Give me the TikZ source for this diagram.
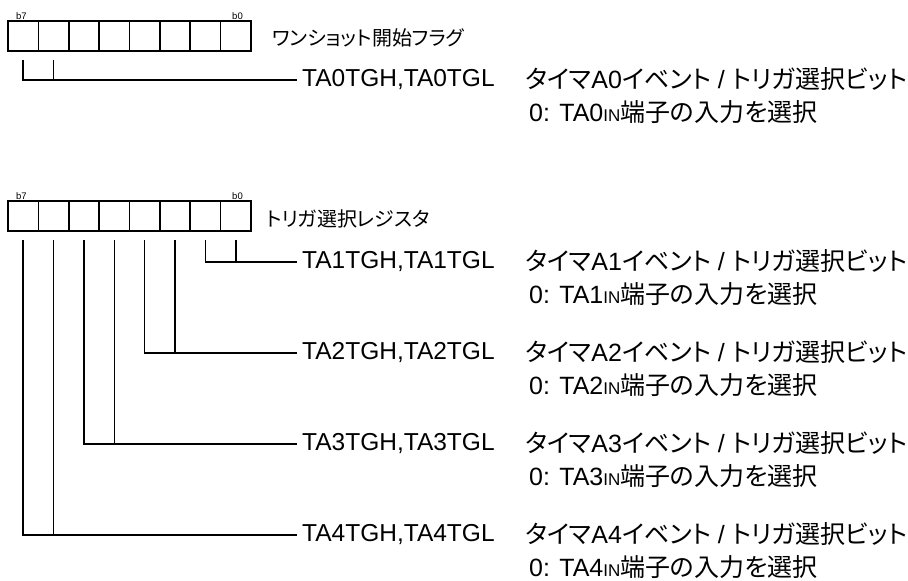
\documentclass[tikz,border=0pt]{standalone}
\usepackage{fontspec}
\setmainfont{Liberation Sans}
\newfontfamily\jpfont[RawFeature=+palt]{Noto Sans CJK JP}
\usetikzlibrary{positioning}

\begin{document}
\begin{tikzpicture}[x=1pt, y=-1pt,
  cell/.style={draw, line width=1.6pt, minimum width=30.375pt, minimum height=30pt, inner sep=0pt},
  leader/.style={line width=1.4pt},
  bitlabel/.style={font=\fontsize{9.5}{9.5}\selectfont, inner sep=0pt},
  regname/.style={font=\fontsize{20}{20}\selectfont\jpfont, anchor=west, inner sep=0pt},
  fieldname/.style={font=\fontsize{24.5}{24.5}\selectfont, anchor=west, inner xsep=5pt, inner ysep=0pt},
  fielddesc/.style={font=\fontsize{25}{25}\selectfont, anchor=base west, inner sep=0pt}]
\useasboundingbox (0,0) rectangle (908,581);

% one-shot start flag
\foreach \i in {0,...,7}
  \node[cell] (f\i) at ({8+30.375*(7.5-\i)},36) {};
\node[bitlabel, anchor=base west] (f7l) at (16,19) {b7};
\node[bitlabel, anchor=base east] (f0l) at (243,19) {b0};
\node[regname] (fname) at (272,38) {ワンショット開始フラグ};

\node[fieldname] (t0) at (297,80) {TA0TGH,TA0TGL};
\node[fielddesc] (d0) at (525,88) {{\jpfont タイマ}A0{\jpfont イベント} / {\jpfont トリガ選択ビット}};
\node[fielddesc] (n0) at (529,121) {0: TA0{\fontsize{17}{17}\selectfont IN}{\jpfont 端子の入力を選択}};
\draw[leader] ([yshift=-8pt]f7.south) |- (t0.west);
\draw[leader] ([yshift=-8pt]f6.south) -- (f6 |- t0.west);

% trigger select register
\foreach \i in {0,...,7}
  \node[cell] (s\i) at ({8+30.375*(7.5-\i)},216) {};
\node[bitlabel, anchor=base west] (s7l) at (16,199) {b7};
\node[bitlabel, anchor=base east] (s0l) at (243,199) {b0};
\node[regname] (sname) at (266,219) {トリガ選択レジスタ};

\foreach \n/\y/\a/\b in {1/262/1/0, 2/353/3/2, 3/444/5/4, 4/535/7/6} {
  \node[fieldname] (t\n) at (297,\y) {TA\n TGH,TA\n TGL};
  \node[fielddesc] (d\n) at (525,\y+8) {{\jpfont タイマ}A\n{\jpfont イベント} / {\jpfont トリガ選択ビット}};
  \node[fielddesc] (n\n) at (529,\y+41) {0: TA\n{\fontsize{17}{17}\selectfont IN}{\jpfont 端子の入力を選択}};
  \draw[leader] ([yshift=-8pt]s\a.south) |- (t\n.west);
  \draw[leader] ([yshift=-8pt]s\b.south) -- (s\b |- t\n.west);
}
\end{tikzpicture}
\end{document}
